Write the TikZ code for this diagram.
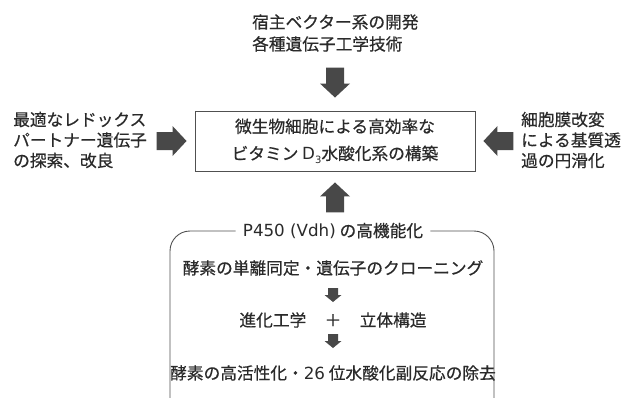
\documentclass[tikz,border=0pt]{standalone}
\usepackage{fontspec}
\setmainfont{Noto Sans CJK JP}[FakeBold=0.5]
\newfontfamily\lat{DejaVu Sans}
\definecolor{txt}{HTML}{2A2A2A}
\definecolor{agray}{HTML}{484848}
\definecolor{lgray}{HTML}{505050}
\tikzset{
  every node/.style={text=txt, font=\fontsize{16.7}{20}\selectfont, inner sep=0pt},
  sidetext/.style={align=left, anchor=west, font=\fontsize{16.7}{20.5}\selectfont},
  toptext/.style={align=left, anchor=west, font=\fontsize{16.7}{22}\selectfont},
  mainbox/.style={draw=lgray, line width=0.9pt, minimum width=280pt, minimum height=60pt, align=center, font=\fontsize{16.7}{27}\selectfont},
  boxline/.style={draw=lgray, line width=0.9pt},
  pics/bigarrow/.style={code={\fill[agray] (0,0) -- (-14,15) -- (-14,9) -- (-30,9) -- (-30,-9) -- (-14,-9) -- (-14,-15) -- cycle;}},
  pics/smallarrow/.style={code={\fill[agray] (0,0) -- (-7,8.5) -- (-7,5) -- (-14,5) -- (-14,-5) -- (-7,-5) -- (-7,-8.5) -- cycle;}},
}
\begin{document}
\begin{tikzpicture}[x=1pt, y=-1pt]
\useasboundingbox (0,0) rectangle (627,397);
\clip (0,0) rectangle (627,397);
% main box
\node[mainbox] (main) at (335,141) {微生物細胞による高効率な\\ビタミン {\lat D}\raisebox{-3.5pt}{\lat\fontsize{10}{10}\selectfont 3}水酸化系の構築};
% side texts
\node[toptext] (top) at (252,33) {宿主ベクター系の開発\\各種遺伝子工学技術};
\node[sidetext] (left) at (13,140) {最適なレドックス\\パートナー遺伝子\\の探索、改良};
\node[sidetext] (right) at (521,140) {細胞膜改変\\による基質透\\過の円滑化};
% block arrows
\pic[rotate=-90] at ([yshift=13pt]main.north) {bigarrow};
\pic at ([xshift=-8pt]main.west) {bigarrow};
\pic[rotate=180] at ([xshift=8pt]main.east) {bigarrow};
\pic[rotate=90] at ([yshift=-11pt]main.south) {bigarrow};
% bottom box
\node[fill=white, inner xsep=7pt, inner ysep=2pt] (ttl) at (333,231) {{\lat P450 (Vdh)} の高機能化};
\node (l1) at (333,268) {酵素の単離同定・遺伝子のクローニング};
\node (l2) at (333,320) {進化工学\hspace{1.1em}＋\hspace{1.1em}立体構造};
\node (l3) at (333,373) {酵素の高活性化・{\lat 26} 位水酸化副反応の除去};
\pic[rotate=-90] at ([yshift=-34pt]l1.center) {smallarrow};
\pic[rotate=-90] at ([yshift=-28pt]l2.center) {smallarrow};
\draw[boxline, rounded corners=20pt] (ttl.west) -- (170,231) -- (170,420) -- (494,420) -- (494,231) -- (ttl.east);
\end{tikzpicture}
\end{document}
